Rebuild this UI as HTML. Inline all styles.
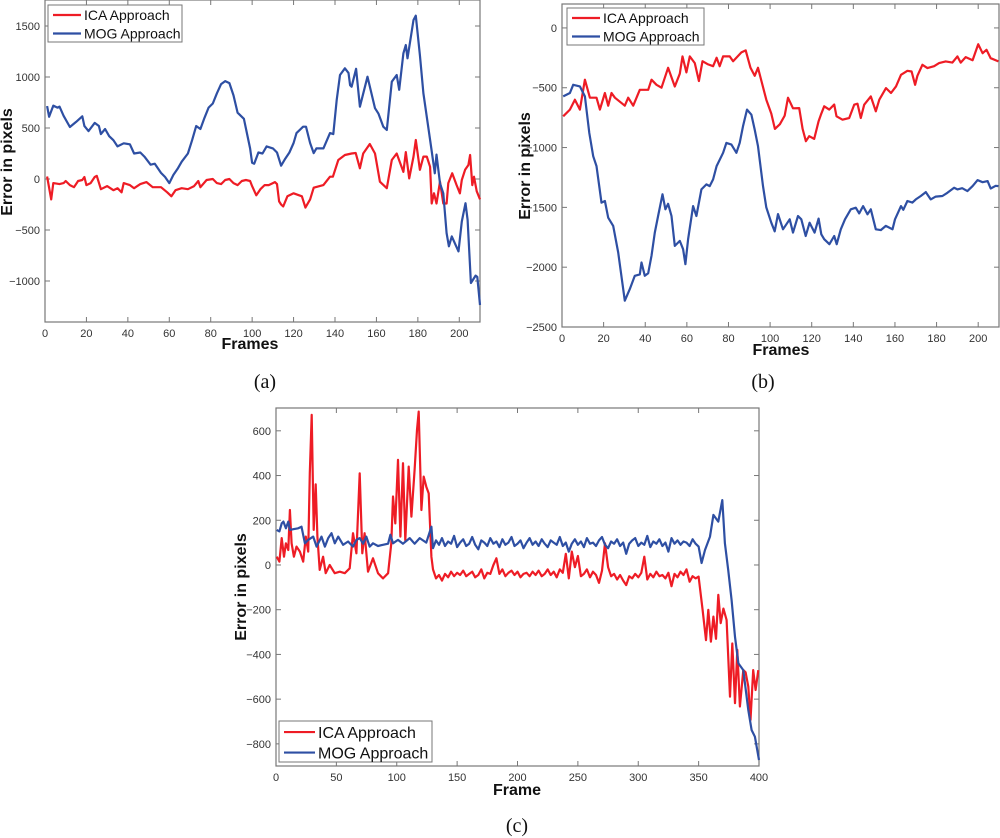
<!DOCTYPE html>
<html><head><meta charset="utf-8"><style>
html,body{margin:0;padding:0;background:#fff;width:1000px;height:838px;overflow:hidden}
svg{display:block}
text{font-family:"Liberation Sans",Arial,sans-serif}
text.cap{font-family:"Liberation Serif",serif}
</style></head><body>
<svg id="fig" width="1000" height="838" viewBox="0 0 1000 838" xmlns="http://www.w3.org/2000/svg"></svg>
<script>
// ---------- Chart (a) data ----------
const aMogFrames=[1,2,4,6,7,9,12,15,18,19,21,24,26,27,29,31,33,35,38,41,43,46,48,51,53,56,58,60,62,64,66,69,71,73,75,77,79,81,83,85,87,89,91,93,96,99,100,101,103,105,107,110,112,114,116,118,120,121.4,124.6,126,128,129.7,131,134.4,137.6,139.2,140.8,142.4,144.8,146.5,147.3,148,150.2,152,155.7,159.3,161,163.3,165,167.4,169.8,171,173,174.2,175,177.9,179,181,182.7,185,186.6,188.2,189,190.7,192.3,193.9,195,196.4,199.6,201.2,203,204,205.6,207.9,208.7,210];
const aMogValues=[715,610,720,700,710,620,510,560,615,520,470,550,520,440,490,420,380,320,350,340,250,260,220,140,150,60,20,-40,40,100,170,250,380,520,490,600,700,740,840,930,960,940,820,650,590,300,160,150,260,250,320,300,260,130,200,260,353,450,513,513,353,254,300,300,450,440,775,1020,1085,1040,920,905,1080,709,1003,694,640,513,480,954,1020,875,1232,1314,1183,1559,1601,1215,840,513,287,56,239,-42,-140,-531,-660,-563,-710,-417,-237,-400,-1020,-947,-960,-1235];
const aIcaFrames=[1,3,4,7,9,10,12,14,16,18,19,20,22,24,25,27,30,33,35,37,38,41,43,46,49,52,56,59,61,63,66,69,72,74,75,78,81,83,85,87,89,91,93,95,97,99,100,102,104,106,108,110,111,112,113,114,115,117,120,124,125.7,128,129.7,134.4,137.6,139,141.6,144.8,148,150,152,153.6,156.8,159.3,161.7,165,167.4,169.8,173,174.2,175.8,177.9,179,181,182.7,184.3,185.9,186.7,187.8,189,190.7,192.3,193.9,194.7,196.6,198.7,200.3,201.2,202.8,204.4,205.2,206.3,207.1,208.4,210];
const aIcaValues=[25,-200,-40,-50,-40,-20,-60,-80,-20,-10,20,-60,-40,20,30,-100,-70,-110,-90,-130,-40,-60,-90,-50,-30,-80,-80,-130,-170,-110,-90,-100,-70,-20,-80,-10,0,-40,-50,-10,0,-40,-60,-20,-10,-20,-70,-160,-100,-60,-60,-40,-30,-50,-220,-250,-270,-170,-140,-170,-280,-200,-85,-60,23,23,186,235,250,255,105,250,343,250,-26,-90,186,250,70,264,6,220,382,90,220,220,120,-240,-140,-240,-26,-240,-240,-40,56,-60,-140,-10,90,137,235,-60,23,-120,-200];

// ---------- Chart (b) data ----------
const bIcaFrames=[0.6,3.8,6.2,8.6,11,13.4,16.6,18.2,20.6,22.2,23.8,25.4,30.2,31.8,34.2,37.4,41.4,43,45.4,47.8,51,54.2,56.6,57.9,59.8,61.4,63.8,65.8,67.5,70.2,72.6,74.3,75.8,77.4,80.6,82.2,86.2,88.3,90.6,92.6,94.2,95.8,98.2,100.6,102.3,104.7,107,108.6,111,114,115.6,117.2,118.8,121.2,123.3,124.4,126,128.4,130.8,131.9,134.8,138,140.4,142,143.6,145.2,148.4,150.8,152.5,155.7,158.1,160.5,162.9,166,168,169.7,170.8,173.2,175.6,178.8,181.2,184.4,187.6,190,191.6,194,197.3,200,202.1,204,206,209.7];
const bIcaValues=[-739,-683,-600,-683,-433,-583,-583,-683,-544,-650,-544,-583,-650,-583,-650,-517,-517,-433,-475,-500,-333,-490,-383,-238,-372,-238,-294,-444,-278,-305,-320,-250,-320,-238,-238,-278,-205,-188,-333,-400,-333,-443,-600,-716,-844,-805,-733,-583,-672,-670,-844,-947,-905,-928,-780,-725,-655,-683,-640,-739,-767,-753,-642,-633,-753,-642,-572,-697,-600,-503,-544,-489,-392,-358,-364,-475,-400,-308,-336,-320,-294,-280,-290,-238,-290,-244,-270,-136,-211,-183,-253,-280];
const bMogFrames=[0.6,3.8,5.4,8.6,11,13.1,15,16.6,19,20.6,22.2,24.6,27,29,30.2,32.6,35,37.4,38.2,39.8,41.4,43,44.6,46.2,48.3,49.7,51,52.6,54.2,56.6,58.2,59.3,60.6,63,64.6,67,69.4,71,72.6,74.3,77.4,79,81.4,83.8,85.4,87,88.9,91,92.6,94.2,96.6,98.2,100.6,102.2,103.8,106.2,109.4,111,113.4,115,117.1,119,121.4,123.3,124.6,126,128.5,130.8,132,134,136,138.8,141.2,142.8,144.7,146.8,148.4,150.8,153.2,155.6,158.8,160,162.9,164,166,168.4,170,172.4,174.8,177.2,179.6,182.8,185.2,188.4,190,192.3,194.8,197.3,199.7,202.1,204.5,206,208.4,209.7];
const bMogValues=[-572,-544,-475,-489,-572,-878,-1072,-1155,-1461,-1447,-1586,-1655,-1877,-2128,-2280,-2183,-2072,-2060,-1961,-2072,-2050,-1905,-1711,-1572,-1391,-1516,-1470,-1572,-1822,-1780,-1850,-1975,-1766,-1489,-1572,-1350,-1308,-1322,-1266,-1155,-1044,-961,-975,-1044,-961,-822,-683,-725,-850,-989,-1322,-1500,-1628,-1700,-1556,-1683,-1600,-1711,-1572,-1600,-1739,-1628,-1711,-1594,-1725,-1766,-1808,-1739,-1808,-1683,-1600,-1516,-1503,-1550,-1489,-1558,-1516,-1683,-1690,-1655,-1683,-1600,-1489,-1520,-1447,-1460,-1433,-1405,-1372,-1433,-1410,-1405,-1378,-1336,-1350,-1340,-1364,-1322,-1272,-1290,-1280,-1342,-1320,-1322];

// ---------- Chart (c) data ----------
const cIcaEarlyFrames=[0.6,2.8,4.7,6.6,8.2,10.2,11.5,12.9,14.8,17,19.8,22.5,24.7,26.7,28,29.6,31.2,32.9,34.3,36.2,39,41.2,44.5,48.6,52.8,57,61,63.8,66.6,69.3,71.5,73.4,76.2,80.3,84.5,88.6,92.8,95.5,96.9,98.8,101,103,105.2,107.1,109.9,112.1,114.8,116.8,118.2,120.4,122.3,124.5,126.5,128.7];
const cIcaEarlyValues=[37,15,120,37,97,67,246,97,37,82,60,15,127,60,410,671,157,361,127,-22,37,-37,0,-37,-30,-37,-15,142,52,410,52,142,-30,30,-37,-60,-37,97,306,186,470,127,455,110,440,216,425,604,686,246,395,350,320,37];
const cMidFrames=[130,132.5,135,137.5,140,142.5,145,147.5,150,152.5,155,157.5,160,162.5,165,167.5,170,172.5,175,177.5,180,182.5,185,187.5,190,192.5,195,197.5,200,202.5,205,207.5,210,212.5,215,217.5,220,222.5,225,227.5,230,232.5,235,237.5,240,242.5,245,247.5,250,252.5,255,257.5,260,262.5,265,267.5,270,272.5,275,277.5,280,282.5,285,287.5,290,292.5,295,297.5,300,302.5,305,307.5,310,312.5,315,317.5,320,322.5,325,327.5,330,332.5,335,337.5,340,342.5,345,347.5,350];
const cIcaMidValues=[-20,-60,-45,-70,-40,-55,-30,-50,-35,-45,-25,-50,-40,-30,-55,-45,-20,-60,-35,-40,0,30,-40,-20,-50,-35,-25,-45,-30,-55,-40,-35,-50,-30,-45,-25,-50,-40,-20,-45,-30,-55,-20,-35,50,-60,60,-10,40,-50,-40,-20,-55,-30,-45,-80,-25,97,-10,-50,-40,-65,-45,-70,-90,-50,-60,-40,-55,-35,37,-65,-40,-55,-30,-50,-45,-60,-35,-95,-40,-55,-30,-45,-20,-75,-50,-60,-52];
const cMogMidValues=[75,110,90,120,85,105,95,130,80,100,115,85,95,125,90,70,110,100,85,120,95,105,80,115,90,100,125,85,95,110,75,100,120,90,105,85,115,95,80,110,100,90,125,85,100,60,95,115,90,105,80,120,95,100,85,110,125,90,75,105,95,115,85,100,50,95,110,120,85,100,90,130,80,105,95,115,85,100,60,120,95,110,90,105,100,85,115,95,82];
const cIcaLateFrames=[353.3,356.1,358,360.2,362.2,364.4,366.3,368.3,370.5,373.2,376,377.9,380.1,382,384.2,387,388.9,391.1,393,395.2,397.2,399.4];
const cIcaLateValues=[-201,-336,-201,-343,-231,-330,-134,-260,-195,-246,-589,-351,-618,-380,-633,-470,-480,-544,-693,-470,-559,-470];
const cMogEarlyFrames=[0.6,2.8,4.7,6.1,8.2,10.2,11.5,14.3,18.4,21.1,23.9,26.7,30.8,33.6,37.7,40.5,43.2,46,48.7,51.5,55.6,59.7,63.8,66.6,69.3,72.1,74.8,77.6,80.3,84.5,88.6,92.8,94.7,96.9,101,105.2,110.7,114.8,119,124.5,128.7];
const cMogEarlyValues=[157,150,186,194,164,194,157,160,164,171,97,112,127,82,127,82,120,142,97,127,90,105,82,112,120,95,127,82,97,85,90,95,135,97,112,95,120,95,120,100,171];
const cMogLateFrames=[352.5,355.3,359.4,362.2,366.3,369.6,371.8,374.5,377.3,380.1,382.9,387,391.1,393.9,396.6,400];
const cMogLateValues=[9,67,127,224,194,290,97,-22,-157,-321,-440,-470,-649,-738,-768,-872];

// ---------- axis ticks ----------
const aXTicks=[0,20,40,60,80,100,120,140,160,180,200];
const aYTicks=[-1000,-500,0,500,1000,1500];
const bXTicks=[0,20,40,60,80,100,120,140,160,180,200];
const bYTicks=[-2500,-2000,-1500,-1000,-500,0];
const cXTicks=[0,50,100,150,200,250,300,350,400];
const cYTicks=[-800,-600,-400,-200,0,200,400,600];

const NS='http://www.w3.org/2000/svg';
const svg=document.getElementById('fig');
function mk(tag,attrs,parent){const e=document.createElementNS(NS,tag);for(const k in attrs)e.setAttribute(k,attrs[k]);(parent||svg).appendChild(e);return e;}

function drawChart(id,box,xDom,yDom,xTicks,yTicks,series,xTitle,yTitle,xTitlePos,yTitlePos,leg,legFont){
  const g=mk('g',{});
  
  
  const sx=v=>box.x0+(v-xDom[0])/(xDom[1]-xDom[0])*(box.x1-box.x0);
  const sy=v=>box.y1-(v-yDom[0])/(yDom[1]-yDom[0])*(box.y1-box.y0);
  const frame=mk('rect',{x:box.x0,y:box.y0,width:box.x1-box.x0,height:box.y1-box.y0,fill:'none',stroke:'#777','stroke-width':1.2},g);
  
  
  xTicks.forEach(t=>{
    const x=sx(t);
    mk('line',{x1:x,x2:x,y1:box.y1,y2:box.y1-5,stroke:'#777'},g);
    mk('line',{x1:x,x2:x,y1:box.y0,y2:box.y0+5,stroke:'#777'},g);
    const tx=mk('text',{x:x,y:box.y1+15,'text-anchor':'middle','font-size':11,fill:'#333'},g);
    tx.textContent=t;
    
    
  });
  yTicks.forEach(t=>{
    const y=sy(t);
    mk('line',{x1:box.x0,x2:box.x0+5,y1:y,y2:y,stroke:'#777'},g);
    mk('line',{x1:box.x1,x2:box.x1-5,y1:y,y2:y,stroke:'#777'},g);
    const tx=mk('text',{x:box.x0-5,y:y+4,'text-anchor':'end','font-size':11,fill:'#333'},g);
    tx.textContent=t<0?'\u2212'+Math.abs(t):t;
    
    
  });
  series.forEach(s=>{
    const d=s.f.map((f,i)=>(i?'L':'M')+sx(f).toFixed(1)+','+sy(s.v[i]).toFixed(1)).join('');
    const p=mk('path',{d:d,fill:'none',stroke:s.c,'stroke-width':2.2,'stroke-linejoin':'round'},g);
    
    
  });
  const xt=mk('text',{x:xTitlePos[0],y:xTitlePos[1],'text-anchor':'middle','font-size':16,'font-weight':'bold',fill:'#111'},g);
  xt.textContent=xTitle;
  
  
  const yt=mk('text',{x:0,y:0,transform:'translate('+yTitlePos[0]+','+yTitlePos[1]+') rotate(-90)','text-anchor':'middle','font-size':16,'font-weight':'bold',fill:'#111'},g);
  yt.textContent=yTitle;
  
  
  const lg=mk('g',{},g);
  
  
  mk('rect',{x:leg.x,y:leg.y,width:leg.w,height:leg.h,fill:'#fff',stroke:'#777'},lg);
  series.forEach((s,i)=>{
    const yy=leg.y+leg.h*(0.27+0.5*i);
    mk('line',{x1:leg.x+5,x2:leg.x+leg.lw,y1:yy,y2:yy,stroke:s.c,'stroke-width':2.2},lg);
    const t=mk('text',{x:leg.x+leg.lw+3,y:yy+legFont*0.36,'font-size':legFont,fill:'#111'},lg);
    t.textContent=s.label;
    
    
  });
}

drawChart('a',{x0:45,x1:480,y0:0,y1:322},[0,210],[-1402,1755],aXTicks,aYTicks,
  [{f:aIcaFrames,v:aIcaValues,c:'#ee1c25',n:'ica',label:'ICA Approach'},{f:aMogFrames,v:aMogValues,c:'#2e4fa3',n:'mog',label:'MOG Approach'}],
  'Frames','Error in pixels',[250,349],[12,162],{x:48,y:5,w:134,h:37,lw:33},14);
drawChart('b',{x0:562,x1:999,y0:4,y1:327},[0,210],[-2500,200],bXTicks,bYTicks,
  [{f:bIcaFrames,v:bIcaValues,c:'#ee1c25',n:'ica',label:'ICA Approach'},{f:bMogFrames,v:bMogValues,c:'#2e4fa3',n:'mog',label:'MOG Approach'}],
  'Frames','Error in pixels',[781,355],[530,166],{x:567,y:8,w:137,h:37,lw:33},14);
drawChart('c',{x0:276,x1:759,y0:408,y1:766},[0,400],[-899,702],cXTicks,cYTicks,
  [{f:cIcaEarlyFrames.concat(cMidFrames,cIcaLateFrames),v:cIcaEarlyValues.concat(cIcaMidValues,cIcaLateValues),c:'#ee1c25',n:'ica',label:'ICA Approach'},
   {f:cMogEarlyFrames.concat(cMidFrames,cMogLateFrames),v:cMogEarlyValues.concat(cMogMidValues,cMogLateValues),c:'#2e4fa3',n:'mog',label:'MOG Approach'}],
  'Frame','Error in pixels',[517,795],[246,587],{x:279,y:721,w:153,h:41,lw:36},16);

[['(a)',265,388],['(b)',763,388],['(c)',517,832]].forEach(l=>{
  const t=mk('text',{x:l[1],y:l[2],'text-anchor':'middle','font-size':20,fill:'#111','class':'cap'});
  t.textContent=l[0];
  
  
});
</script>
</body></html>
